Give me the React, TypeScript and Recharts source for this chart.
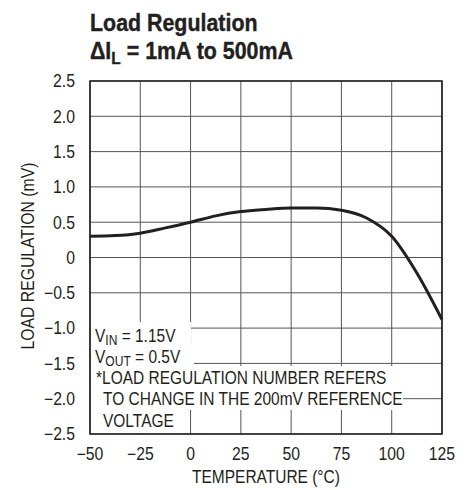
import { LineChart, Line, XAxis, YAxis, CartesianGrid, ReferenceArea } from 'recharts'

// temperature (°C) vs load regulation (mV)
const temps = [-50, -37.5, -25, -12.5, 0, 12.5, 25, 37.5, 50, 62.5, 75, 87.5, 100, 112.5, 125]
const loadReg = [0.3, 0.31, 0.345, 0.42, 0.5, 0.59, 0.65, 0.68, 0.7, 0.7, 0.67, 0.56, 0.3, -0.22, -0.88]

const xTicks = [-50, -25, 0, 25, 50, 75, 100, 125]
const yTicks = [-2.5, -2, -1.5, -1, -0.5, 0, 0.5, 1, 1.5, 2, 2.5]

// no condensed Helvetica here, so squeeze Liberation Sans horizontally
const FONT = "'Liberation Sans', Arial, sans-serif"
const INK = '#231f20'

const fmtX = (v: number) => (v < 0 ? `\u2212${Math.abs(v)}` : `${v}`)
const fmtY = (v: number) => {
  if (v === 0) return '0'
  const s = Math.abs(v).toFixed(1)
  return v < 0 ? `\u2212${s}` : s
}

function XTick({ x, y, payload }: any) {
  return (
    <g transform={`translate(${x},${y + 24}) scale(0.9,1)`}>
      <text x={0} y={0} textAnchor="middle" fontSize={17.5} fontFamily={FONT} fill={INK}>
        {fmtX(payload.value)}
      </text>
    </g>
  )
}

function YTick({ x, y, payload }: any) {
  return (
    <g transform={`translate(${x - 13},${y + 6.3}) scale(0.9,1)`}>
      <text x={0} y={0} textAnchor="end" fontSize={17.5} fontFamily={FONT} fill={INK}>
        {fmtY(payload.value)}
      </text>
    </g>
  )
}

const sub = (s: string, size: number, drop: number) => (
  <span style={{ fontSize: size, position: 'relative', top: drop }}>{s}</span>
)

export default function App() {
  const data = temps.map((t, i) => ({ temp: t, reg: loadReg[i] }))
  const white = { position: 'absolute' as const, background: '#fff' }
  const line = (top: number, left: number) => ({
    position: 'absolute' as const,
    left,
    top,
    fontSize: 18,
    lineHeight: '18px',
    whiteSpace: 'nowrap' as const,
    transform: 'scaleX(0.86)',
    transformOrigin: 'left center',
  })

  return (
    <div style={{ position: 'absolute', left: 0, top: 0, width: 469, height: 490, background: '#fff', fontFamily: FONT, color: INK }}>
      <div style={{ position: 'absolute', left: 90, top: 10, fontSize: 23.5, fontWeight: 700, lineHeight: '27.6px', whiteSpace: 'nowrap', transform: 'scaleX(0.91)', transformOrigin: 'left top', WebkitTextStroke: '0.4px ' + INK }}>
        <div>Load Regulation</div>
        <div>ΔI{sub('L', 17, 5)} = 1mA to 500mA</div>
      </div>

      <LineChart width={469} height={490} data={data} margin={{ top: 81, right: 27, bottom: 0, left: 0 }}>
        <CartesianGrid stroke="#555" strokeWidth={1} />
        <XAxis
          dataKey="temp"
          type="number"
          domain={[-50, 125]}
          ticks={xTicks}
          interval={0}
          height={56}
          tickSize={0}
          tickLine={false}
          axisLine={false}
          tick={<XTick />}
        />
        <YAxis
          type="number"
          domain={[-2.5, 2.5]}
          ticks={yTicks}
          interval={0}
          width={90}
          tickSize={0}
          tickLine={false}
          axisLine={false}
          tick={<YTick />}
        />
        <ReferenceArea x1={-50} x2={125} y1={-2.5} y2={2.5} fill="none" fillOpacity={0} stroke={INK} strokeWidth={1.6} strokeOpacity={1} />
        <Line dataKey="reg" type="monotone" stroke={INK} strokeWidth={3} dot={false} isAnimationActive={false} />
      </LineChart>

      <div style={{ position: 'absolute', left: 266, top: 467.5, transform: 'translateX(-50%) scaleX(0.86)', fontSize: 18, lineHeight: '18px', whiteSpace: 'nowrap' }}>
        TEMPERATURE (°C)
      </div>
      <div style={{ position: 'absolute', left: 28, top: 256, transform: 'translate(-50%, -50%) rotate(-90deg) scaleX(0.875)', fontSize: 18, lineHeight: '18px', whiteSpace: 'nowrap' }}>
        LOAD REGULATION (mV)
      </div>

      {/* note block, white boxes knock out the grid behind the text */}
      <div style={{ ...white, left: 91, top: 322, width: 100, height: 22 }} />
      <div style={{ ...white, left: 91, top: 344, width: 103, height: 22 }} />
      <div style={{ ...white, left: 91, top: 366, width: 312, height: 44 }} />
      <div style={{ ...white, left: 91, top: 410, width: 97, height: 23 }} />
      <div style={line(326.8, 95)}>V{sub('IN', 14, 3)} = 1.15V</div>
      <div style={line(348, 95)}>V{sub('OUT', 14, 3)} = 0.5V</div>
      <div style={line(369.2, 96)}>*LOAD REGULATION NUMBER REFERS</div>
      <div style={line(390.4, 103)}>TO CHANGE IN THE 200mV REFERENCE</div>
      <div style={line(411.6, 103)}>VOLTAGE</div>
    </div>
  )
}
